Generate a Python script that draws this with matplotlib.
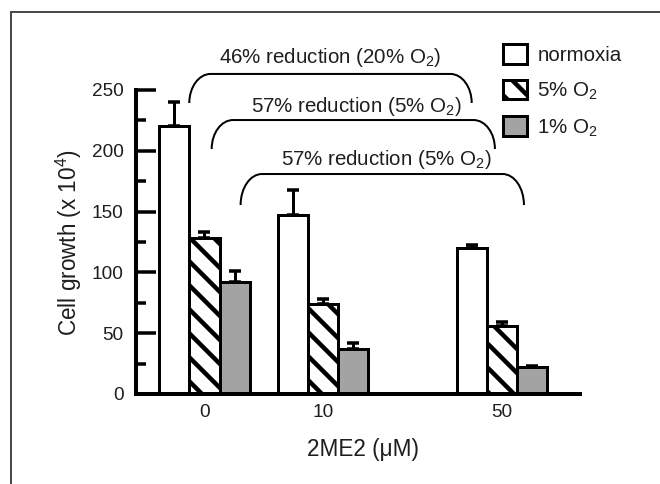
import matplotlib
matplotlib.use('Agg')
import matplotlib.pyplot as plt
from matplotlib.path import Path
from matplotlib.patches import PathPatch
from matplotlib.lines import Line2D
from matplotlib.ticker import MultipleLocator
import numpy as np

# ---------------- data ----------------
doses = ['0', '10', '50']
series_labels = ['normoxia', '5% O$_2$', '1% O$_2$']
normoxia = [220, 147, 120]
normoxia_err = [20, 21, 2.5]
o2_5 = [128, 74, 56]
o2_5_err = [5, 4, 3]
o2_1 = [92, 37, 22]
o2_1_err = [9, 5, 1]
reduction_labels = ['46% reduction (20% O$_2$)',
                    '57% reduction (5% O$_2$)',
                    '57% reduction (5% O$_2$)']

# ---------------- style ----------------
plt.rcParams.update({
    'font.family': ['Liberation Sans', 'DejaVu Sans'],
    'mathtext.fontset': 'custom',
    'mathtext.rm': 'Liberation Sans',
    'mathtext.it': 'Liberation Sans:italic',
    'mathtext.bf': 'Liberation Sans:bold',
    'mathtext.default': 'regular',
    'hatch.linewidth': 4.5,
    'hatch.color': 'black',
})
TEXT = '#1e1e1e'

fig = plt.figure(figsize=(660 / 72, 484 / 72), dpi=72)
ax = fig.add_axes([135.5 / 660, 90 / 484, 444.5 / 660, 304 / 484])

group_x = np.array([0.0, 1.0, 2.51])
width = 0.255

series = [
    (normoxia, normoxia_err, 'white', None),
    (o2_5, o2_5_err, 'white', '\\'),
    (o2_1, o2_1_err, '#a3a3a3', None),
]
for i, (vals, errs, fc, hatch) in enumerate(series):
    xs = group_x + (i - 1) * width
    ax.bar(xs, vals, width, color=fc, edgecolor='black', linewidth=3,
           hatch=hatch, label=series_labels[i], zorder=2)
    ax.errorbar(xs, vals, yerr=[np.zeros(len(errs)), errs], fmt='none',
                ecolor='black', elinewidth=3, capsize=6, capthick=3.5, zorder=3)

ax.set_xlim(-0.582, 3.169)
ax.set_ylim(0, 250)
for s in ['top', 'right']:
    ax.spines[s].set_visible(False)
for s in ['left', 'bottom']:
    ax.spines[s].set_linewidth(4)

ax.set_xticks(group_x, doses)
ax.tick_params(axis='x', length=0, pad=10, labelsize=19, labelcolor=TEXT)
ax.yaxis.set_major_locator(MultipleLocator(50))
ax.yaxis.set_minor_locator(MultipleLocator(25))
ax.tick_params(axis='y', which='major', direction='in', length=20, width=3.5,
               pad=12, labelsize=19, labelcolor=TEXT)
ax.tick_params(axis='y', which='minor', direction='in', length=10, width=3.5)

ax.set_ylabel('Cell growth (x 10$^4$)', fontsize=22.5, color=TEXT)
ax.yaxis.label.set_verticalalignment('center')
ax.yaxis.set_label_coords(-0.1496, 0.497)
ax.set_xlabel('2ME2 (\u03bcM)', fontsize=22.5, color=TEXT)
ax.xaxis.label.set_verticalalignment('center')
ax.xaxis.set_label_coords(0.512, -0.181)

# ---------------- reduction brackets ----------------
brackets = [  # (x_left, x_right, y_bottom, y_top)
    (-0.128, 2.255, 239.3, 263.2),
    (0.061, 2.451, 201.5, 225.3),
    (0.305, 2.696, 155.4, 180.9),
]
text_pos = [(1.059, 272.2), (1.283, 231.9), (1.532, 188.3)]
rx = 0.18
k = 0.552
for (xl, xr, yb, yt), lab, (tx, ty) in zip(brackets, reduction_labels, text_pos):
    ry = yt - yb
    verts = [(xl, yb),
             (xl, yb + k * ry), (xl + rx - k * rx, yt), (xl + rx, yt),
             (xr - rx, yt),
             (xr - rx + k * rx, yt), (xr, yb + k * ry), (xr, yb)]
    codes = [Path.MOVETO,
             Path.CURVE4, Path.CURVE4, Path.CURVE4,
             Path.LINETO,
             Path.CURVE4, Path.CURVE4, Path.CURVE4]
    ax.add_patch(PathPatch(Path(verts, codes), fill=False, edgecolor='black',
                           linewidth=2, clip_on=False, zorder=4))
    ax.text(tx, ty, lab, ha='center', va='baseline', fontsize=20.5,
            color=TEXT, clip_on=False)

# ---------------- legend ----------------
ax.legend(loc='upper left', bbox_to_anchor=(503 / 660, 1 - 44 / 484),
          bbox_transform=fig.transFigure, frameon=False, fontsize=20.5,
          handlelength=1.17, handleheight=1.1, handletextpad=0.5,
          labelspacing=0.72, borderpad=0, borderaxespad=0,
          labelcolor=TEXT)

# ---------------- outer frame ----------------
fx = 11 / 660
fy = 1 - 12 / 484
fig.add_artist(Line2D([fx, fx], [0, fy], transform=fig.transFigure,
                      color='#4a4a4a', linewidth=2))
fig.add_artist(Line2D([fx, 1], [fy, fy], transform=fig.transFigure,
                      color='#4a4a4a', linewidth=2))

fig.savefig('out.png', dpi=72, facecolor='white')
